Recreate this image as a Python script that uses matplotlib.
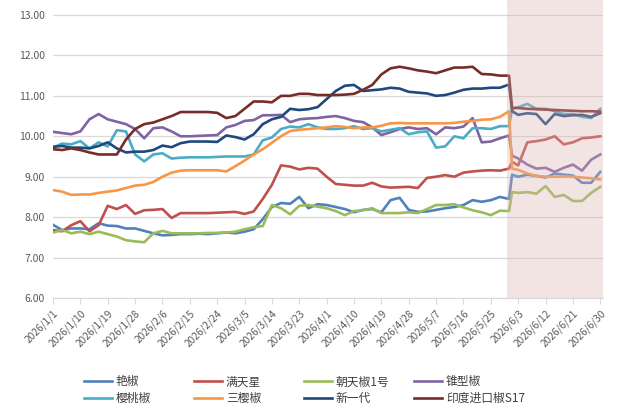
import numpy as np
import pandas as pd
import matplotlib
matplotlib.use("Agg")
import matplotlib.pyplot as plt

plt.rcParams['font.family'] = ['Noto Sans CJK SC', 'DejaVu Sans']

# 日期偏移（自 2026/1/1 起的天数）
start = pd.Timestamp("2026-01-01")
days = [0, 3, 6, 9, 12, 15, 18, 21, 24, 27, 30, 33, 36, 39, 42, 45, 48, 51, 54, 57,
        60, 63, 66, 69, 72, 75, 78, 81, 84, 87, 90, 93, 96, 99, 102, 105, 108, 111, 114, 117,
        120, 123, 126, 129, 132, 135, 138, 141, 144, 147, 150,
        151, 153, 156, 159, 162, 165, 168, 171, 174, 177, 180]

yanjiao = [7.81, 7.68, 7.72, 7.72, 7.70, 7.85, 7.79, 7.78, 7.72, 7.72, 7.66, 7.60, 7.55, 7.56, 7.58, 7.58, 7.59, 7.58, 7.60, 7.62,
           7.60, 7.64, 7.70, 7.95, 8.25, 8.35, 8.33, 8.50, 8.22, 8.32, 8.30, 8.25, 8.20, 8.12, 8.18, 8.20, 8.12, 8.42, 8.48, 8.18,
           8.13, 8.14, 8.18, 8.22, 8.25, 8.30, 8.42, 8.38, 8.42, 8.50, 8.45,
           9.05, 9.00, 9.05, 9.02, 8.98, 9.08, 9.05, 9.03, 8.85, 8.85, 9.12]
mantianxing = [7.68, 7.65, 7.80, 7.90, 7.65, 7.80, 8.28, 8.20, 8.30, 8.08, 8.17, 8.18, 8.20, 7.98, 8.10, 8.10, 8.10, 8.10, 8.11, 8.12,
               8.13, 8.08, 8.14, 8.45, 8.80, 9.28, 9.25, 9.18, 9.22, 9.20, 9.00, 8.82, 8.80, 8.78, 8.78, 8.85, 8.76, 8.73, 8.74, 8.75,
               8.72, 8.97, 9.00, 9.04, 9.00, 9.10, 9.13, 9.15, 9.16, 9.15, 9.20,
               9.37, 9.28, 9.85, 9.88, 9.92, 10.00, 9.80, 9.85, 9.95, 9.97, 10.00]
chaotian1 = [7.62, 7.68, 7.60, 7.64, 7.58, 7.64, 7.58, 7.52, 7.43, 7.40, 7.38, 7.60, 7.66, 7.60, 7.60, 7.60, 7.60, 7.61, 7.61, 7.62,
             7.64, 7.70, 7.75, 7.78, 8.30, 8.22, 8.07, 8.28, 8.30, 8.26, 8.22, 8.15, 8.05, 8.15, 8.17, 8.22, 8.10, 8.10, 8.10, 8.12,
             8.10, 8.20, 8.30, 8.30, 8.32, 8.24, 8.17, 8.12, 8.05, 8.16, 8.15,
             8.62, 8.60, 8.62, 8.58, 8.77, 8.50, 8.55, 8.40, 8.40, 8.60, 8.75]
zhuixing = [10.11, 10.08, 10.05, 10.12, 10.42, 10.55, 10.42, 10.36, 10.30, 10.18, 9.95, 10.20, 10.22, 10.12, 10.00, 10.00, 10.01, 10.02, 10.03, 10.22,
            10.28, 10.38, 10.40, 10.52, 10.52, 10.53, 10.35, 10.42, 10.44, 10.45, 10.48, 10.50, 10.45, 10.38, 10.35, 10.22, 10.03, 10.10, 10.18, 10.22,
            10.18, 10.20, 10.05, 10.22, 10.20, 10.24, 10.45, 9.85, 9.87, 9.95, 10.02,
            9.52, 9.45, 9.30, 9.20, 9.22, 9.12, 9.22, 9.30, 9.15, 9.42, 9.55]
yingtao = [9.72, 9.82, 9.80, 9.88, 9.70, 9.85, 9.75, 10.15, 10.12, 9.55, 9.38, 9.55, 9.58, 9.45, 9.47, 9.48, 9.48, 9.48, 9.49, 9.50,
           9.50, 9.50, 9.55, 9.90, 9.97, 10.18, 10.24, 10.22, 10.30, 10.22, 10.18, 10.18, 10.20, 10.25, 10.18, 10.20, 10.12, 10.16, 10.20, 10.05,
           10.10, 10.12, 9.72, 9.75, 10.00, 9.95, 10.20, 10.20, 10.18, 10.25, 10.25,
           10.68, 10.72, 10.80, 10.68, 10.68, 10.62, 10.55, 10.55, 10.48, 10.45, 10.68]
sanying = [8.67, 8.63, 8.55, 8.56, 8.56, 8.60, 8.63, 8.66, 8.72, 8.78, 8.80, 8.87, 9.00, 9.10, 9.15, 9.16, 9.16, 9.16, 9.16, 9.13,
           9.26, 9.40, 9.55, 9.68, 9.84, 10.00, 10.13, 10.16, 10.18, 10.20, 10.22, 10.25, 10.23, 10.20, 10.22, 10.22, 10.26, 10.32, 10.33, 10.32,
           10.32, 10.32, 10.32, 10.32, 10.33, 10.36, 10.38, 10.41, 10.42, 10.48, 10.62,
           9.20, 9.17, 9.08, 9.02, 9.00, 9.00, 9.01, 9.00, 8.98, 8.96, 8.93]
xinyidai = [9.74, 9.76, 9.72, 9.72, 9.70, 9.76, 9.85, 9.70, 9.60, 9.62, 9.62, 9.66, 9.77, 9.73, 9.83, 9.87, 9.87, 9.87, 9.86, 10.02,
            9.98, 9.92, 10.05, 10.30, 10.42, 10.48, 10.68, 10.65, 10.67, 10.72, 10.92, 11.12, 11.25, 11.27, 11.12, 11.14, 11.16, 11.20, 11.18, 11.10,
            11.08, 11.06, 11.00, 11.02, 11.08, 11.15, 11.18, 11.18, 11.20, 11.20, 11.28,
            10.62, 10.53, 10.57, 10.55, 10.30, 10.55, 10.50, 10.52, 10.53, 10.48, 10.57]
yindu_s17 = [9.68, 9.66, 9.70, 9.66, 9.60, 9.55, 9.55, 9.55, 9.92, 10.18, 10.30, 10.34, 10.42, 10.50, 10.60, 10.60, 10.60, 10.60, 10.58, 10.45,
             10.50, 10.68, 10.86, 10.86, 10.84, 11.00, 11.00, 11.05, 11.05, 11.02, 11.02, 11.02, 11.03, 11.05, 11.15, 11.27, 11.53, 11.68, 11.72, 11.68,
             11.63, 11.60, 11.56, 11.63, 11.70, 11.70, 11.72, 11.54, 11.53, 11.50, 11.50,
             10.70, 10.70, 10.68, 10.67, 10.66, 10.65, 10.64, 10.63, 10.62, 10.62, 10.61]

names = ["艳椒", "满天星", "朝天椒1号", "锥型椒", "樱桃椒", "三樱椒", "新一代", "印度进口椒S17"]
series = [yanjiao, mantianxing, chaotian1, zhuixing, yingtao, sanying, xinyidai, yindu_s17]
colors = ["#4F81BD", "#C0504D", "#9BBB59", "#8064A2", "#4BACC6", "#F79646", "#1F497D", "#772C2A"]

shade_from = 149.4   # 预测区间起点
tick_days = list(range(0, 181, 9))

fig = plt.figure(figsize=(6.18, 4.19), dpi=100)
ax = fig.add_axes([53 / 618, 121 / 419, 550 / 618, 298 / 419])

lines = []
for name, vals, c in zip(names, series, colors):
    ln, = ax.plot(days, vals, color=c, lw=1.9, label=name, solid_joinstyle="round")
    lines.append(ln)

ax.axvspan(shade_from, 181, color=(220 / 255, 178 / 255, 178 / 255), alpha=0.34, lw=0, zorder=5)

ax.set_xlim(0, 180.9)
ax.set_ylim(6, 6 + 298 / 40.43)
ax.set_yticks(np.arange(6, 14))
ax.set_yticklabels([f"{v:.2f}" for v in np.arange(6, 14)])
ax.yaxis.grid(True, color="#D9D9D9", lw=0.9)
ax.set_axisbelow(True)

ax.set_xticks(tick_days)
lbls = [(start + pd.Timedelta(days=d)) for d in tick_days]
ax.set_xticklabels([f"{t.year}/{t.month}/{t.day}" for t in lbls], rotation=45,
                   ha="right", va="top", rotation_mode="anchor")

for s in ["top", "right", "left"]:
    ax.spines[s].set_visible(False)
ax.spines["bottom"].set_color("#D9D9D9")
ax.tick_params(axis="y", length=0, labelsize=7.5, labelcolor="#595959", pad=6)
ax.tick_params(axis="x", length=4, color="#D9D9D9", labelsize=7.3, labelcolor="#595959", pad=3)

# 图例：四列，每列两行
col_x = [84, 194, 304, 414]
for i, x in enumerate(col_x):
    hs = [lines[i], lines[i + 4]]
    fig.legend(hs, [h.get_label() for h in hs], loc="center left",
               bbox_to_anchor=(x / 618, 29 / 419), frameon=False, fontsize=8.5,
               handlelength=2.4, handletextpad=0.3, labelspacing=0.3,
               borderpad=0, borderaxespad=0, labelcolor="#404040")

fig.savefig("out.png", dpi=100)
